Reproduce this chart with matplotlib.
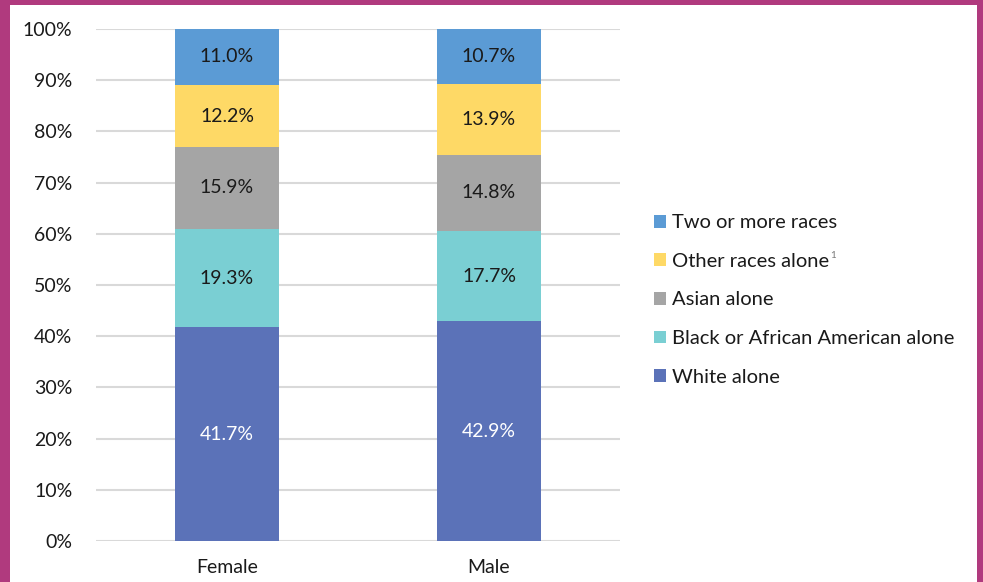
import matplotlib.pyplot as plt
from matplotlib.patches import Rectangle

plt.rcParams['font.family'] = ['Lato', 'DejaVu Sans']

groups = ['Female', 'Male']
races = ['White alone', 'Black or African American alone', 'Asian alone',
         'Other races alone', 'Two or more races']
white = [41.7, 42.9]
black = [19.3, 17.7]
asian = [15.9, 14.8]
other = [12.2, 13.9]
two_more = [11.0, 10.7]
colors = ['#5B72B8', '#7ACFD3', '#A5A5A5', '#FED966', '#5B9BD5']
label_colors = ['white', '#1a1a1a', '#1a1a1a', '#1a1a1a', '#1a1a1a']

series = [white, black, asian, other, two_more]

fig = plt.figure(figsize=(9.83, 5.82), dpi=100, facecolor='#B03A7E')
# white panel inside the magenta frame
fig.patches.append(Rectangle((10 / 983, 0), 967 / 983, 577 / 582,
                             transform=fig.transFigure, facecolor='white',
                             edgecolor='none', zorder=-10))

ax = fig.add_axes([96 / 983, 41 / 582, 524 / 983, 512 / 582])
ax.set_facecolor('white')

x = range(len(groups))
bottom = [0, 0]
handles = []
for vals, col, lc, name in zip(series, colors, label_colors, races):
    bars = ax.bar(x, vals, width=0.4, bottom=bottom, color=col, label=name, zorder=3)
    handles.append(bars)
    for i, v in enumerate(vals):
        ax.text(i, bottom[i] + v / 2, f'{v:.1f}%', ha='center', va='center',
                fontsize=14, color=lc, zorder=4)
    bottom = [b + v for b, v in zip(bottom, vals)]

ax.set_xlim(-0.5, 1.5)
ax.set_ylim(0, 100)
ax.set_yticks(range(0, 101, 10))
ax.set_yticklabels([f'{t}%' for t in range(0, 101, 10)])
ax.set_xticks(list(x))
ax.set_xticklabels(groups)
ax.tick_params(axis='y', length=0, pad=17, labelsize=14, labelcolor='#1a1a1a')
ax.tick_params(axis='x', length=0, pad=13, labelsize=14, labelcolor='#1a1a1a')
ax.yaxis.grid(True, color='#D9D9D9', linewidth=1.5, zorder=0)
ax.set_axisbelow(True)
for s in ax.spines.values():
    s.set_visible(False)

leg = fig.legend(handles[::-1], races[::-1], loc='center left',
                 bbox_to_anchor=(636 / 983, 1 - 300 / 582), frameon=False,
                 fontsize=14.5, handlelength=0.6, handleheight=0.6,
                 handletextpad=0.3, labelspacing=1.07)
for t in leg.get_texts():
    t.set_color('#1a1a1a')

# superscript footnote marker after "Other races alone"
fig.canvas.draw()
renderer = fig.canvas.get_renderer()
bb = leg.get_texts()[1].get_window_extent(renderer)
fig.text(bb.x1 + 1, bb.y1 + 2, '1', fontsize=7, color='#777777',
         ha='left', va='top', transform=None)

fig.savefig('out.png', dpi=100, facecolor=fig.get_facecolor())
